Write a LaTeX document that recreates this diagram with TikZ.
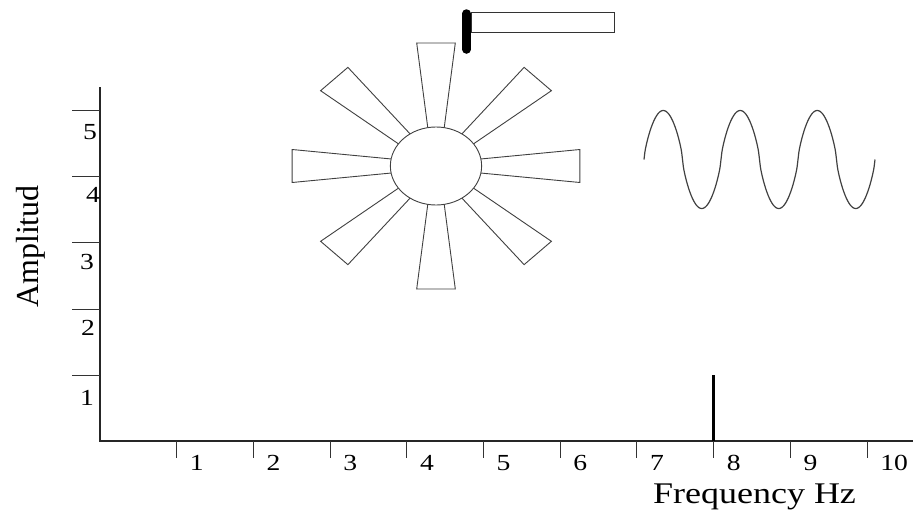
\documentclass[tikz,border=0pt]{standalone}
\usepackage{fontspec}
\setmainfont{Liberation Serif}
\begin{document}
\begin{tikzpicture}[x=1pt,y=-1pt,
  axisline/.style={line width=1.3pt,black!85},
  tickline/.style={line width=1pt,black!80},
  numlab/.style={font=\fontsize{23}{23}\selectfont,xscale=1.2,inner sep=0pt},
  bladeshape/.style={draw=black!75,line width=0.9pt,fill=white},
  wave/.style={line width=1.2pt,black!75},
  ]
\useasboundingbox (0,0) rectangle (913,517);
% axes
\coordinate (O) at (100,441);
\coordinate (ytop) at (100,87);
\coordinate (xend) at (913,441);
\draw[axisline] (ytop) -- (O) -- (xend);
% y ticks and labels
\foreach \k in {0,...,4} \draw[tickline] (72,{110+66.4*\k}) -- (100,{110+66.4*\k});
\node[numlab] (y5) at (90,132) {5};
\node[numlab] (y4) at (93,195) {4};
\node[numlab] (y3) at (87,262) {3};
\node[numlab] (y2) at (88,328) {2};
\node[numlab] (y1) at (87,398) {1};
% x ticks and labels
\foreach \k in {1,...,10} {
  \draw[tickline] ({100+76.7*\k},441) -- ({100+76.7*\k},458);
  \node[numlab,anchor=west] (x\k) at ({113+76.7*\k},463) {\k};
}
\node[font=\fontsize{30}{30}\selectfont,xscale=1.2,anchor=base,inner sep=0pt] (freq) at (754.5,503) {Frequency Hz};
\node[font=\fontsize{32}{32}\selectfont,rotate=90,anchor=base,inner sep=0pt] (ampl) at (38,246.5) {Amplitud};
% spectral line at 8
\coordinate (b1) at (713.6,375);
\coordinate (b0) at (713.6,441);
\draw[line width=2.5pt] (b1) -- (b0);
% sine wave (slightly squared)
\draw[wave] plot[domain=0:1080,samples=241,smooth] ({644+\x*0.213889},{159.5-49*sign(sin(\x))*(abs(sin(\x))+0.0001)^0.72});
% fan
\begin{scope}[shift={(436,166)},xscale=1.17]
\foreach \a in {0,45,...,315}
  \draw[bladeshape,rotate=\a] (30,-6.1) -- (123,-16.5) -- (123,16.5) -- (30,6.1) -- cycle;
\draw[bladeshape] (0,0) circle[radius=39];
\end{scope}
% hammer
\draw[draw=black!80,line width=1pt,fill=white] (471,12.3) rectangle (614,32.3);
\draw[line width=8.5pt,line cap=round] (466.5,13.5) -- (466.5,49.5);
\end{tikzpicture}
\end{document}
